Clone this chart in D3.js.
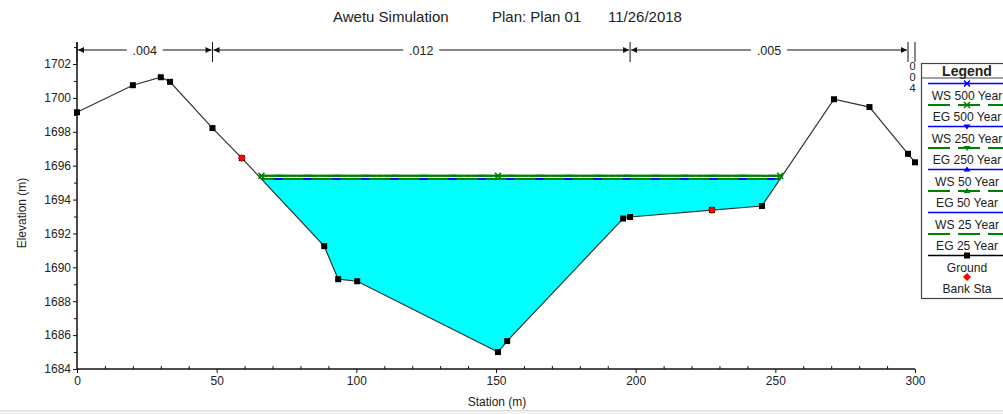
<!DOCTYPE html>
<html>
<head>
<meta charset="utf-8">
<script src="https://cdn.jsdelivr.net/npm/d3@7"></script>
<style>
  html, body { margin: 0; padding: 0; background: #fff; }
  svg { display: block; font-family: "Liberation Sans", Arial, sans-serif; }
</style>
</head>
<body>
<svg id="chart" width="1003" height="414"></svg>
<script>
// Cross-section ground survey (station m, elevation m)
const groundStation = [0, 20, 30, 33.3, 48.5, 59, 88.5, 93.5, 100.3, 150.7, 154, 195.5, 198, 227.3, 245.2, 271, 283.7, 297.5, 300];
const groundElev    = [1699.15, 1700.75, 1701.22, 1700.95, 1698.22, 1696.45, 1691.25, 1689.3, 1689.18, 1685.0, 1685.65, 1692.88, 1692.97, 1693.38, 1693.62, 1699.92, 1699.46, 1696.7, 1696.2];
// Bank stations
const bankStation = [59, 227.3];
const bankElev    = [1696.45, 1693.38];
// Water surface and energy grade per profile
const profiles = ["500 Year", "250 Year", "50 Year", "25 Year"];
const wsElev   = [1695.21, 1695.21, 1695.21, 1695.21];
const egElev   = [1695.40, 1695.40, 1695.40, 1695.22];
// Manning's n reaches
const nBreaks = [0, 48.5, 198, 297.5, 300];
const nValues = [".004", ".012", ".005", ".004"];
// Axis ticks
const xTicks = [0, 50, 100, 150, 200, 250, 300];
const yTicks = [1684, 1686, 1688, 1690, 1692, 1694, 1696, 1698, 1700, 1702];

const svg = d3.select("#chart");
const txt = "#222";

const x = d3.scaleLinear().domain([0, 300]).range([77, 915]);
const y = d3.scaleLinear().domain([1684, 1703.3]).range([369, 42]);

// Title
const title = svg.append("g").attr("fill", txt).attr("font-size", 15);
title.append("text").attr("x", 333).attr("y", 22).text("Awetu Simulation");
title.append("text").attr("x", 492).attr("y", 22).text("Plan: Plan 01");
title.append("text").attr("x", 608).attr("y", 22).text("11/26/2018");

// Window bottom strip
svg.append("rect").attr("x", 0).attr("y", 410).attr("width", 1003).attr("height", 4).attr("fill", "#f2f2f2");
svg.append("line").attr("x1", 0).attr("x2", 1003).attr("y1", 410.5).attr("y2", 410.5).attr("stroke", "#dcdcdc");

// Wet area polygon between water surface and ground
const ground = groundStation.map((s, i) => [s, groundElev[i]]);
const ws = wsElev[0];
function crossings(level) {
  const pts = [];
  for (let i = 0; i < ground.length - 1; i++) {
    const [s0, e0] = ground[i], [s1, e1] = ground[i + 1];
    if ((e0 - level) * (e1 - level) < 0) {
      pts.push(s0 + (level - e0) / (e1 - e0) * (s1 - s0));
    }
  }
  return pts;
}
const cross = crossings(ws);
const left = cross[0], right = cross[cross.length - 1];
const wet = [[left, ws]].concat(ground.filter(d => d[0] > left && d[0] < right)).concat([[right, ws]]);
svg.append("path")
  .attr("d", d3.line().x(d => x(d[0])).y(d => y(d[1]))(wet) + "Z")
  .attr("fill", "#00ffff");

// Axes
const yAxis = d3.axisLeft(y).tickValues(yTicks).tickFormat(d3.format("d")).tickSize(4).tickPadding(2);
const yg = svg.append("g").attr("transform", "translate(77,0)").call(yAxis);
const yMinor = svg.append("g").attr("transform", "translate(77,0)")
  .call(d3.axisLeft(y).tickValues(d3.range(1685, 1704, 2)).tickFormat("").tickSize(3));
yMinor.select(".domain").remove();
yg.select(".domain").attr("d", `M0,${y.range()[0]}V${y.range()[1]}`).attr("stroke-width", 1.5);

const xAxis = d3.axisBottom(x).tickValues(xTicks).tickFormat(d3.format("d")).tickSize(4).tickPadding(3);
const xg = svg.append("g").attr("transform", "translate(0,369)").call(xAxis);
const xMinor = svg.append("g").attr("transform", "translate(0,369)")
  .call(d3.axisTop(x).tickValues(d3.range(10, 300, 10).filter(v => v % 50 !== 0)).tickFormat("").tickSize(3));
xMinor.select(".domain").remove();
xg.select(".domain").attr("d", `M${x.range()[0]},0H${x.range()[1]}`).attr("stroke-width", 1.5);

[yg, xg, yMinor, xMinor].forEach(g => {
  g.selectAll("text").attr("font-size", 12).attr("fill", txt).attr("font-family", "Liberation Sans, Arial, sans-serif");
  g.selectAll("line, path").attr("stroke", "#111");
});

// Axis titles
svg.append("text").attr("x", 497).attr("y", 406).attr("text-anchor", "middle")
  .attr("font-size", 12).attr("fill", txt).text("Station (m)");
svg.append("text").attr("transform", "translate(26,213) rotate(-90)").attr("text-anchor", "middle")
  .attr("font-size", 12).attr("fill", txt).text("Elevation (m)");

// Manning's n reach indicators
const nG = svg.append("g");
const arrowY = 50;
nBreaks.forEach(b => {
  nG.append("line").attr("x1", x(b)).attr("x2", x(b)).attr("y1", 42).attr("y2", 62)
    .attr("stroke", "#111").attr("stroke-width", 1);
});
function arrowHead(px, dir) {
  nG.append("path")
    .attr("d", `M${px},${arrowY}l${-dir * 6},-3l0,6Z`)
    .attr("fill", "#111");
}
nValues.forEach((v, i) => {
  const x0 = x(nBreaks[i]) + 1, x1 = x(nBreaks[i + 1]) - 1;
  const w = x1 - x0;
  const cx = (x0 + x1) / 2;
  if (w > 40) {
    nG.append("line").attr("x1", x0).attr("x2", cx - 18).attr("y1", arrowY).attr("y2", arrowY).attr("stroke", "#111");
    nG.append("line").attr("x1", cx + 18).attr("x2", x1).attr("y1", arrowY).attr("y2", arrowY).attr("stroke", "#111");
    arrowHead(x0, -1);
    arrowHead(x1, 1);
    nG.append("text").attr("x", cx).attr("y", arrowY + 4.5).attr("text-anchor", "middle")
      .attr("font-size", 12.5).attr("fill", txt).text(v);
  } else {
    // Narrow reach: stack the characters vertically
    const baselines = [58, 69.5, 80.5, 91.5];
    v.split("").forEach((c, k) => {
      nG.append("text").attr("x", cx + 1).attr("y", baselines[k]).attr("text-anchor", "middle")
        .attr("font-size", k === 0 ? 8 : 11).attr("fill", k === 0 ? "#c04040" : txt).text(c);
    });
  }
});

// Ground line
svg.append("path")
  .attr("d", d3.line().x(d => x(d[0])).y(d => y(d[1]))(ground))
  .attr("fill", "none").attr("stroke", "#333").attr("stroke-width", 1.2);

// Water surface / energy grade lines
const wl = svg.append("g");
profiles.forEach((p, i) => {
  wl.append("line").attr("x1", x(left)).attr("x2", x(right))
    .attr("y1", y(wsElev[i])).attr("y2", y(wsElev[i]))
    .attr("stroke", "#0000ff").attr("stroke-width", 2);
});
profiles.forEach((p, i) => {
  wl.append("line").attr("x1", x(left)).attr("x2", x(right))
    .attr("y1", y(egElev[i])).attr("y2", y(egElev[i]))
    .attr("stroke", "#008000").attr("stroke-width", 2)
    .attr("stroke-dasharray", "21,8").attr("stroke-dashoffset", -i * 7);
});
// Profile markers
function bowtie(g, cx, cy, color) {
  g.append("path").attr("d", `M${cx - 3},${cy - 3}L${cx + 3},${cy + 3}M${cx - 3},${cy + 3}L${cx + 3},${cy - 3}M${cx - 3},${cy}H${cx + 3}`)
    .attr("stroke", color).attr("stroke-width", 1.5).attr("fill", "none");
}
[left, 150.7, right].forEach(s => bowtie(wl, x(s), y(egElev[0]), "#008000"));

// Ground points
svg.append("g").selectAll("rect").data(ground).join("rect")
  .attr("x", d => x(d[0]) - 3).attr("y", d => y(d[1]) - 3)
  .attr("width", 6).attr("height", 6).attr("fill", "#000");

// Bank stations
svg.append("g").selectAll("path").data(bankStation).join("path")
  .attr("d", (d, i) => `M${x(d)},${y(bankElev[i]) - 4}l4,4l-4,4l-4,-4Z`)
  .attr("fill", "#ff0000");

// Legend
const lg = svg.append("g");
const lx = 921.5, lw = 95, lcx = 967;
lg.append("rect").attr("x", lx).attr("y", 63.5).attr("width", lw).attr("height", 235)
  .attr("fill", "#fff").attr("stroke", "#444").attr("stroke-width", 1.2);
lg.append("text").attr("x", lcx).attr("y", 75.5).attr("text-anchor", "middle")
  .attr("font-size", 14).attr("font-weight", "bold").attr("fill", txt).text("Legend");
lg.append("line").attr("x1", lx).attr("x2", lx + lw).attr("y1", 78).attr("y2", 78).attr("stroke", "#444");

const legendItems = [];
profiles.forEach((p, i) => {
  legendItems.push({ label: "WS " + p, color: "#0000ff", dash: null, marker: ["bow", "down", "up", null][i] });
  legendItems.push({ label: "EG " + p, color: "#008000", dash: "22,8", marker: ["bow", "down", "up", null][i] });
});
legendItems.push({ label: "Ground", color: "#000", dash: null, marker: "square" });
legendItems.push({ label: "Bank Sta", color: "#ff0000", dash: null, marker: "diamond", noLine: true });

legendItems.forEach((it, i) => {
  const ly = 83.5 + i * 21.5;
  if (!it.noLine) {
    lg.append("line").attr("x1", 928).attr("x2", 1010).attr("y1", ly).attr("y2", ly)
      .attr("stroke", it.color).attr("stroke-width", it.dash ? 2 : 1.5)
      .attr("stroke-dasharray", it.dash);
  }
  const m = it.marker;
  if (m === "bow") bowtie(lg, lcx, ly, it.color);
  else if (m === "down") lg.append("path").attr("d", `M${lcx - 3.5},${ly - 2}h7l-3.5,5Z`).attr("fill", it.color);
  else if (m === "up") lg.append("path").attr("d", `M${lcx - 3.5},${ly + 2}h7l-3.5,-5Z`).attr("fill", it.color);
  else if (m === "square") lg.append("rect").attr("x", lcx - 3).attr("y", ly - 3).attr("width", 6).attr("height", 6).attr("fill", "#000");
  else if (m === "diamond") lg.append("path").attr("d", `M${lcx},${ly - 4}l4,4l-4,4l-4,-4Z`).attr("fill", it.color);
  lg.append("text").attr("x", lcx).attr("y", ly + 16).attr("text-anchor", "middle")
    .attr("font-size", 12.1).attr("fill", txt).text(it.label);
});
</script>
</body>
</html>
